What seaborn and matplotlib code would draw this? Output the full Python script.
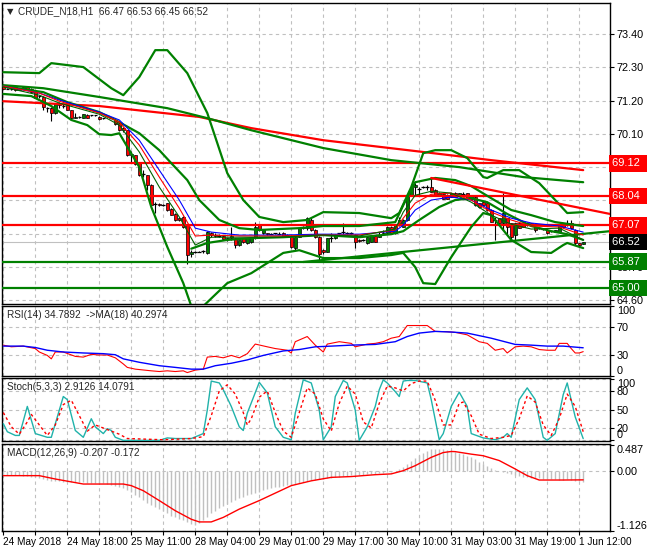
import numpy as np
import matplotlib
matplotlib.use("Agg")
import matplotlib.pyplot as plt
import seaborn as sns

## chart texts
title = "CRUDE_N18,H1  66.47 66.53 66.45 66.52"
rsi_title = "RSI(14) 34.7892  ->MA(18) 40.2974"
sto_title = "Stoch(5,3,3) 2.9126 14.0791"
macd_title = "MACD(12,26,9) -0.207 -0.172"
time_labels = ["24 May 2018", "24 May 18:00", "25 May 11:00", "28 May 04:00", "29 May 01:00",
               "29 May 17:00", "30 May 10:00", "31 May 03:00", "31 May 19:00", "1 Jun 12:00"]
label_bars = [0, 16, 32, 48, 64, 80, 96, 112, 128, 144]
price_ticks = [73.40, 72.30, 71.20, 70.10, 69.00, 67.90, 66.80, 65.70, 64.60]

## H1 candles
opens = [71.73, 71.60, 71.59, 71.65, 71.55, 71.58, 71.65, 71.60, 71.47, 71.32,
         71.33, 70.96, 70.97, 70.78, 71.08, 71.05, 71.07, 70.89, 70.64, 70.67,
         70.63, 70.74, 70.70, 70.70, 70.67, 70.61, 70.67, 70.63, 70.56, 70.45,
         70.28, 70.22, 69.40, 69.40, 69.15, 68.79, 68.74, 68.40, 67.79, 67.78,
         67.74, 67.80, 67.63, 67.45, 67.30, 67.36, 67.08, 66.12, 66.20, 66.20,
         66.21, 66.15, 66.81, 66.75, 66.73, 66.72, 66.61, 66.64, 66.64, 66.42,
         66.64, 66.48, 66.53, 66.64, 67.08, 66.81, 66.81, 66.79, 66.80, 66.81,
         66.81, 66.74, 66.72, 66.31, 66.70, 66.97, 66.97, 67.25, 66.92, 66.70,
         66.25, 66.20, 66.64, 66.64, 66.80, 66.84, 66.83, 66.81, 66.75, 66.59,
         66.58, 66.48, 66.53, 66.72, 66.70, 66.78, 66.81, 67.03, 66.81, 67.08,
         67.03, 67.25, 68.07, 68.35, 68.30, 68.33, 68.35, 68.35, 68.24, 68.07,
         68.10, 68.07, 68.02, 68.13, 68.07, 68.13, 68.13, 67.96, 68.02, 67.80,
         67.86, 67.80, 67.58, 67.25, 67.30, 67.14, 67.30, 67.14, 66.75, 67.14,
         67.08, 67.08, 67.14, 67.03, 66.97, 66.94, 66.92, 66.88, 66.86, 66.86,
         67.08, 67.08, 67.14, 66.92, 66.48, 66.47]
highs = [71.75, 71.63, 71.62, 71.67, 71.60, 71.67, 71.66, 71.62, 71.48, 71.37,
         71.35, 71.00, 70.99, 71.12, 71.16, 71.08, 71.08, 70.90, 70.78, 70.69,
         70.76, 70.76, 70.73, 70.72, 70.68, 70.64, 70.69, 70.66, 70.57, 70.46,
         70.34, 70.23, 69.53, 69.41, 69.16, 68.90, 68.75, 68.45, 67.85, 67.82,
         67.78, 67.82, 67.64, 67.47, 67.36, 67.38, 67.10, 66.25, 66.23, 66.22,
         66.25, 66.88, 66.86, 66.83, 66.77, 66.75, 66.66, 67.03, 66.66, 66.45,
         66.66, 66.66, 66.68, 67.19, 67.12, 66.93, 66.83, 66.82, 66.83, 66.85,
         66.86, 66.77, 66.75, 66.72, 67.00, 67.05, 67.36, 67.30, 66.95, 66.72,
         66.30, 66.66, 66.81, 66.78, 66.83, 67.14, 66.85, 66.85, 66.78, 66.61,
         66.62, 66.72, 66.74, 66.74, 66.86, 66.92, 67.05, 67.06, 67.10, 67.36,
         67.27, 68.10, 68.38, 68.46, 68.35, 68.37, 68.41, 68.63, 68.26, 68.16,
         68.12, 68.10, 68.15, 68.16, 68.15, 68.18, 68.15, 68.08, 68.04, 67.82,
         67.88, 67.82, 67.60, 67.36, 67.32, 68.13, 67.32, 67.16, 67.16, 67.16,
         67.10, 67.19, 67.16, 67.05, 67.00, 66.97, 66.94, 66.90, 66.93, 67.10,
         67.12, 67.25, 67.25, 66.94, 66.50, 66.53]
lows = [71.58, 71.57, 71.56, 71.52, 71.54, 71.57, 71.58, 71.45, 71.28, 71.30,
        70.89, 70.83, 70.52, 70.75, 70.95, 70.94, 70.88, 70.56, 70.62, 70.64,
        70.62, 70.63, 70.68, 70.69, 70.57, 70.60, 70.66, 70.61, 70.40, 70.21,
        70.17, 69.38, 69.18, 69.08, 68.72, 68.68, 68.24, 67.72, 67.47, 67.72,
        67.70, 67.56, 67.40, 67.23, 67.22, 67.00, 65.81, 66.03, 66.17, 66.18,
        66.17, 66.12, 66.70, 66.68, 66.70, 66.58, 66.57, 66.59, 66.31, 66.40,
        66.50, 66.45, 66.50, 66.62, 66.90, 66.79, 66.75, 66.77, 66.78, 66.78,
        66.71, 66.72, 66.31, 66.25, 66.68, 66.95, 66.92, 66.90, 66.64, 65.92,
        66.14, 66.18, 66.53, 66.62, 66.78, 66.80, 66.78, 66.79, 66.31, 66.52,
        66.56, 66.46, 66.51, 66.51, 66.68, 66.76, 66.79, 66.79, 66.79, 67.06,
        67.01, 67.22, 68.05, 68.07, 68.07, 68.30, 68.24, 68.17, 68.05, 68.05,
        67.94, 67.94, 68.00, 68.00, 68.05, 68.10, 67.94, 67.94, 67.72, 67.66,
        67.72, 67.56, 67.17, 66.59, 67.12, 66.92, 66.75, 66.59, 66.59, 66.97,
        67.02, 67.06, 67.07, 66.86, 66.95, 66.92, 66.80, 66.86, 66.84, 66.84,
        67.01, 67.06, 66.95, 66.42, 66.36, 66.45]
closes = [71.60, 71.59, 71.60, 71.54, 71.58, 71.65, 71.60, 71.47, 71.30, 71.34,
          71.00, 70.95, 70.78, 71.11, 71.05, 71.03, 70.89, 70.63, 70.67, 70.65,
          70.75, 70.64, 70.72, 70.71, 70.58, 70.62, 70.68, 70.64, 70.41, 70.22,
          70.22, 69.40, 69.45, 69.09, 68.74, 68.77, 68.40, 67.76, 67.78, 67.74,
          67.74, 67.58, 67.41, 67.25, 67.25, 67.03, 66.09, 66.20, 66.20, 66.20,
          66.22, 66.86, 66.75, 66.72, 66.72, 66.61, 66.64, 66.72, 66.42, 66.59,
          66.53, 66.64, 66.64, 67.03, 66.92, 66.92, 66.77, 66.80, 66.81, 66.80,
          66.72, 66.75, 66.37, 66.70, 66.97, 67.02, 67.30, 66.92, 66.70, 66.14,
          66.20, 66.64, 66.66, 66.75, 66.81, 66.86, 66.81, 66.81, 66.53, 66.55,
          66.59, 66.70, 66.72, 66.53, 66.75, 66.81, 67.03, 66.81, 67.08, 67.25,
          67.25, 68.07, 68.35, 68.40, 68.29, 68.35, 68.35, 68.18, 68.07, 68.13,
          67.96, 67.96, 68.13, 68.02, 68.13, 68.12, 67.96, 68.07, 67.75, 67.69,
          67.75, 67.58, 67.19, 67.25, 67.14, 67.47, 67.03, 66.70, 67.14, 66.97,
          67.03, 67.14, 67.08, 66.92, 66.97, 66.94, 66.81, 66.88, 66.92, 67.08,
          67.03, 67.14, 66.97, 66.48, 66.42, 66.52]

## overlays on the price window (bar index, price)
sma_red_x = [0, 24, 49, 62, 80, 105, 122, 145]
sma_red_y = [71.18, 71.02, 70.66, 70.29, 69.89, 69.50, 69.23, 68.90]
sma_green_x = [0, 10, 24, 41, 51, 62, 80, 97, 114, 130, 145]
sma_green_y = [71.71, 71.61, 71.32, 70.95, 70.62, 70.22, 69.63, 69.23, 69.00, 68.67, 68.50]
bbw_up_x = [0, 9, 12, 20, 27, 30, 34, 38, 41, 46, 51, 56, 60, 64, 70, 76, 80, 89, 97, 99,
            102, 105, 108, 112, 116, 120, 121, 125, 129, 134, 138, 141, 145]
bbw_up_y = [72.14, 72.11, 72.44, 72.31, 71.61, 71.38, 71.98, 72.87, 72.87, 72.11,
            70.79, 68.80, 67.91, 67.35, 67.18, 67.25, 67.51, 67.48, 67.31, 67.48,
            68.34, 69.46, 69.56, 69.56, 69.30, 68.67, 68.64, 68.90, 68.90, 68.47,
            67.91, 67.48, 67.51]
bbw_lo_x = [0, 7, 12, 17, 21, 24, 27, 29, 34, 37, 41, 45, 47, 50, 56, 62, 70, 74, 80, 89,
            97, 100, 103, 105, 108, 112, 117, 120, 122, 127, 132, 137, 140, 141, 145]
bbw_lo_y = [71.42, 71.35, 71.02, 70.56, 70.39, 70.09, 70.06, 70.12, 69.00, 67.68,
            66.36, 65.16, 64.40, 64.40, 65.16, 65.49, 66.16, 66.25, 65.99, 65.99,
            66.09, 66.16, 65.69, 65.16, 65.13, 66.02, 67.02, 67.48, 67.41, 66.59,
            66.19, 66.16, 66.42, 66.49, 66.32]
bb_up_x = [0, 10, 16, 24, 28, 34, 39, 42, 46, 49, 54, 59, 64, 74, 80, 89, 98, 100, 103, 108,
           113, 117, 122, 127, 132, 138, 145]
bb_up_y = [71.68, 71.48, 71.15, 70.82, 70.56, 70.12, 69.56, 69.13, 68.57, 67.91,
           67.25, 66.98, 66.92, 66.98, 67.05, 67.05, 67.18, 67.74, 68.50, 68.64,
           68.57, 68.37, 67.97, 67.58, 67.41, 67.18, 67.05]
bb_lo_x = [47, 51, 56, 62, 70, 80, 89, 97, 100, 104, 109, 113, 117, 121, 126, 132, 137, 141, 145]
bb_lo_y = [66.30, 66.49, 66.59, 66.65, 66.68, 66.75, 66.68, 66.78, 66.88, 67.25,
           67.68, 67.91, 67.97, 67.84, 67.45, 67.05, 66.88, 66.78, 66.59]
ma_x = [0, 9, 14, 24, 29, 34, 39, 44, 48, 52, 59, 69, 79, 89, 98, 100, 103, 107, 112, 117,
        122, 127, 132, 139, 145]
ma_blue_y = [71.68, 71.45, 71.22, 70.82, 70.56, 69.89, 68.90, 67.91, 66.98, 66.85,
             66.75, 66.75, 66.78, 66.78, 66.88, 67.08, 67.58, 67.91, 68.01, 67.91,
             67.58, 67.31, 67.15, 67.05, 66.85]
ma_red_y = [71.68, 71.45, 71.18, 70.79, 70.49, 69.73, 68.67, 67.64, 66.72, 66.75,
            66.72, 66.72, 66.75, 66.75, 66.92, 67.31, 67.81, 68.10, 68.14, 67.91,
            67.51, 67.25, 67.05, 67.02, 66.75]
ma_dgreen_y = [71.65, 71.38, 71.12, 70.75, 70.39, 69.50, 68.34, 67.35, 66.42, 66.68,
               66.68, 66.68, 66.75, 66.72, 66.95, 67.51, 68.07, 68.20, 68.14, 67.84,
               67.41, 67.11, 66.95, 66.98, 66.59]
trend_red_x = [107, 151.7]
trend_red_y = [68.64, 67.45]
trend_green_x = [75, 151.7]
trend_green_y = [65.86, 66.88]
red_levels = [69.12, 68.04, 67.07]
green_levels = [65.87, 65.00]
last_price = 66.52

## RSI(14) and its MA(18)
rsi_x = [0, 2, 5, 8, 9, 11, 12, 13, 15, 18, 20, 22, 24, 26, 28, 30, 31, 33, 37, 39,
         41, 43, 45, 46, 48, 50, 51, 53, 55, 57, 59, 61, 63, 66, 68, 71, 72, 73, 76, 78,
         80, 81, 84, 87, 88, 91, 93, 95, 97, 99, 101, 103, 106, 108, 111, 113, 116, 119, 121, 123,
         125, 126, 128, 130, 132, 134, 136, 138, 139, 141, 142, 143, 144, 145]
rsi_y = [44.1, 41.7, 42.7, 39.2, 34.3, 29.4, 24.5, 34.3, 34.3, 28.0, 27.0, 30.9, 30.0, 30.0,
         26.0, 17.2, 12.3, 9.8, 7.4, 6.4, 7.4, 6.4, 7.4, 4.9, 8.4, 9.8, 27.0, 28.0, 26.0, 29.4,
         26.0, 31.9, 45.6, 41.7, 39.2, 36.8, 32.9, 49.0, 56.4, 44.1, 34.3, 45.6, 49.0, 46.6,
         41.7, 45.6, 46.6, 49.0, 54.0, 56.4, 72.1, 72.1, 72.1, 63.7, 63.3, 62.3, 58.8, 49.0,
         46.6, 36.8, 39.2, 32.9, 41.7, 42.7, 41.7, 37.8, 36.8, 36.8, 46.6, 46.6, 39.2, 32.9,
         32.9, 34.8]
rsi_ma_x = [0, 5, 8, 11, 15, 20, 25, 28, 30, 34, 39, 43, 47, 50, 53, 57, 61, 65, 70, 74,
            78, 82, 87, 93, 98, 101, 104, 108, 112, 116, 122, 128, 132, 136, 140, 145]
rsi_ma_y = [42.7, 42.7, 40.7, 36.8, 34.3, 32.9, 31.9, 30.4, 24.5, 19.6, 14.7, 12.3, 9.8, 9.8,
            14.7, 18.2, 23.0, 29.4, 35.8, 37.8, 41.7, 42.7, 44.1, 45.1, 49.0, 56.4, 61.3, 63.7,
            62.8, 61.3, 54.0, 45.1, 44.1, 42.7, 42.7, 40.3]

## Stochastic(5,3,3)
sto_x = [0, 1, 3, 4, 6, 7, 8, 11, 12, 14, 15, 16, 18, 20, 22, 23, 25, 26, 27, 28,
         30, 39, 41, 43, 47, 50, 51, 52, 54, 55, 57, 59, 60, 61, 64, 66, 68, 70, 72, 73,
         75, 77, 79, 80, 82, 83, 85, 86, 88, 89, 91, 93, 94, 95, 96, 98, 99, 100, 101, 103,
         106, 107, 109, 110, 112, 114, 116, 117, 120, 123, 125, 126, 127, 129, 131, 133, 135, 136, 138, 140,
         141, 143, 145]
sto_main = [27, 14, 8, 8, 55, 33, 11, 5, 5, 49, 71, 66, 16, 5, 35, 22, 11, 19, 16, 5,
            0, 0, 4, 3, 3, 11, 49, 96, 93, 82, 55, 22, 16, 44, 94, 77, 22, 5, 1, 44,
            98, 93, 49, 1, 22, 71, 97, 93, 49, 0, 22, 55, 82, 98, 93, 79, 71, 96, 97, 97,
            93, 66, 1, 11, 55, 78, 55, 11, 4, 1, 5, 11, 5, 66, 85, 66, 5, 0, 11, 74,
            93, 38, 2.9]
sig_x = [0, 2, 4, 6, 7, 9, 11, 13, 15, 17, 19, 21, 23, 25, 27, 29, 31, 40, 47, 50,
         52, 54, 56, 58, 60, 61, 62, 64, 66, 68, 70, 72, 74, 76, 78, 80, 82, 84, 86, 88,
         90, 92, 94, 96, 98, 100, 102, 104, 106, 108, 110, 112, 114, 115, 117, 119, 122, 125, 127, 129,
         131, 133, 135, 137, 139, 141, 143, 145]
sig_y = [45, 22, 10, 30, 42, 25, 8, 25, 58, 65, 40, 15, 25, 20, 15, 10, 3, 1, 3, 6,
         40, 80, 90, 75, 45, 25, 35, 70, 80, 45, 15, 5, 45, 85, 75, 35, 15, 60, 88, 75,
         30, 20, 60, 88, 85, 80, 92, 96, 96, 65, 25, 25, 60, 62, 40, 10, 3, 5, 8, 35,
         72, 62, 25, 8, 35, 75, 55, 14.1]

## MACD(12,26,9): histogram per bar + signal
macd_hist = [-0.09, -0.09, -0.09, -0.09, -0.09, -0.10, -0.10, -0.11, -0.12, -0.13,
             -0.15, -0.17, -0.19, -0.20, -0.20, -0.21, -0.21, -0.22, -0.22, -0.22,
             -0.22, -0.23, -0.23, -0.23, -0.24, -0.24, -0.25, -0.26, -0.28, -0.30,
             -0.32, -0.36, -0.40, -0.45, -0.50, -0.55, -0.60, -0.64, -0.68, -0.72,
             -0.76, -0.80, -0.84, -0.87, -0.90, -0.93, -0.97, -1.00, -1.01, -0.98,
             -0.92, -0.86, -0.80, -0.75, -0.70, -0.66, -0.62, -0.58, -0.55, -0.52,
             -0.49, -0.46, -0.44, -0.41, -0.39, -0.37, -0.35, -0.33, -0.31, -0.30,
             -0.28, -0.27, -0.26, -0.25, -0.23, -0.21, -0.19, -0.18, -0.17, -0.16,
             -0.15, -0.14, -0.13, -0.12, -0.11, -0.10, -0.10, -0.09, -0.09, -0.08,
             -0.08, -0.07, -0.07, -0.06, -0.05, -0.04, -0.03, -0.02, 0.00, 0.03,
             0.06, 0.12, 0.18, 0.24, 0.29, 0.33, 0.37, 0.40, 0.41, 0.41,
             0.40, 0.39, 0.37, 0.35, 0.33, 0.31, 0.28, 0.25, 0.21, 0.17,
             0.13, 0.09, 0.05, 0.02, -0.01, -0.03, -0.05, -0.07, -0.09, -0.10,
             -0.11, -0.12, -0.13, -0.14, -0.14, -0.15, -0.16, -0.16, -0.16, -0.17,
             -0.17, -0.16, -0.17, -0.19, -0.20, -0.21]
macd_sig_x = [0, 9, 13, 20, 30, 32, 35, 39, 43, 47, 49, 52, 55, 59, 64, 68, 72, 77, 82, 87,
              93, 97, 100, 103, 107, 110, 112, 113, 117, 120, 124, 128, 131, 134, 140, 145]
macd_sig_y = [-0.093, -0.093, -0.156, -0.25, -0.25, -0.28, -0.375, -0.56, -0.75, -0.91,
              -0.96, -0.96, -0.875, -0.72, -0.56, -0.42, -0.28, -0.19, -0.125, -0.11,
              -0.075, -0.06, 0.0, 0.094, 0.25, 0.34, 0.36, 0.357, 0.31, 0.28,
              0.19, 0.032, -0.093, -0.175, -0.175, -0.172]

# style
sns.set_theme(style="white")
plt.rcParams['font.family'] = ['Liberation Sans', 'DejaVu Sans']
grid_kw = dict(color='#c0c0c0', linestyle=(0, (3, 3)), linewidth=0.8)
small = 7.2

W, H = 650, 550
fig = plt.figure(figsize=(6.5, 5.5), dpi=100)
fig.patch.set_facecolor('white')


def panel(top, bottom):
    return fig.add_axes([2 / W, 1 - bottom / H, 608 / W, (bottom - top) / H])


ax = panel(3, 304)
ax_rsi = panel(306, 376)
ax_sto = panel(378, 441)
ax_macd = panel(444, 531)
grid_bars = np.arange(0, 150, 8)

for a in [ax, ax_rsi, ax_sto, ax_macd]:
    a.set_facecolor('white')
    a.set_xlim(-0.33, 151.7)
    for s in a.spines.values():
        s.set_color('black')
        s.set_linewidth(1.0)
    a.set_xticks(grid_bars)
    a.grid(axis='x', **grid_kw)
    a.yaxis.tick_right()
    a.tick_params(axis='y', right=True, left=False, labelright=True, labelleft=False,
                  length=3, width=0.8, pad=2, labelsize=7.8, colors='black', direction='out')
    a.tick_params(axis='x', bottom=False, labelbottom=False)


def line(a, xs, ys, color, lw, ls='-', z=4):
    sns.lineplot(x=xs, y=ys, ax=a, color=color, linewidth=lw, linestyle=ls,
                 estimator=None, sort=False, legend=False, zorder=z)


# 1. price window
bars = np.arange(len(closes))
o = np.array(opens); c = np.array(closes); h = np.array(highs); l = np.array(lows)
ax.vlines(bars, l, h, color='black', linewidth=0.8, zorder=3)
body_lo = np.minimum(o, c)
body_h = np.abs(c - o)
flat = body_h < 0.025
up = (c > o) & ~flat
dn = (c <= o) & ~flat
ax.bar(bars[up], body_h[up], bottom=body_lo[up], width=0.75, color='#008000',
       edgecolor='black', linewidth=0.5, zorder=3)
ax.bar(bars[dn], body_h[dn], bottom=body_lo[dn], width=0.75, color='#ff0000',
       edgecolor='black', linewidth=0.5, zorder=3)
ax.hlines(c[flat], bars[flat] - 0.45, bars[flat] + 0.45, color='black', linewidth=0.9, zorder=3)

ax.axhline(last_price, color='#c0c0c0', linewidth=0.8, zorder=2)
for lv in red_levels:
    ax.axhline(lv, color='#ff0000', linewidth=1.6, zorder=4)
for lv in green_levels:
    ax.axhline(lv, color='#008000', linewidth=1.6, zorder=4)

line(ax, sma_red_x, sma_red_y, '#ff0000', 1.6)
line(ax, sma_green_x, sma_green_y, '#008000', 1.6)
line(ax, bbw_up_x, bbw_up_y, '#008000', 1.6)
line(ax, bbw_lo_x, bbw_lo_y, '#008000', 1.6)
line(ax, bb_up_x, bb_up_y, '#008000', 1.6)
line(ax, bb_lo_x, bb_lo_y, '#008000', 1.6)
line(ax, trend_red_x, trend_red_y, '#ff0000', 1.6)
line(ax, trend_green_x, trend_green_y, '#008000', 1.6)
line(ax, ma_x, ma_blue_y, '#0000ff', 0.8, z=5)
line(ax, ma_x, ma_red_y, '#ff0000', 0.8, z=5)
line(ax, ma_x, ma_dgreen_y, '#006400', 0.8, z=5)

ax.set_ylim(64.47, 74.43)
ax.set_yticks(price_ticks)
ax.set_yticklabels([f"{p:.2f}" for p in price_ticks])
ax.grid(axis='y', **grid_kw)
ax.set_xlabel(''); ax.set_ylabel('')

tr = ax.get_yaxis_transform()
box_rows = [(v, '#ff0000') for v in red_levels] + [(last_price, 'black')] + \
           [(v, '#008000') for v in green_levels]
for v, col in box_rows:
    ax.text(1.004, v, f"{v:.2f} ", transform=tr, ha='left', va='center', color='white',
            fontsize=8, zorder=10, clip_on=False,
            bbox=dict(boxstyle='square,pad=0.3', facecolor=col, edgecolor='none'))

ax.text(0.008, 0.985, "\u25bc", transform=ax.transAxes, ha='left', va='top', fontsize=6,
        family=['DejaVu Sans'])
ax.text(0.027, 0.99, title, transform=ax.transAxes, ha='left', va='top', fontsize=small)

# 2. RSI window
line(ax_rsi, rsi_x, rsi_y, '#ff0000', 0.8)
line(ax_rsi, rsi_ma_x, rsi_ma_y, '#0000ff', 1.0)
ax_rsi.set_ylim(0, 100)
ax_rsi.set_yticks([0, 30, 70, 100])
ax_rsi.set_yticklabels(['0', '30', '70', '100'])
ax_rsi.grid(axis='y', **grid_kw)
labs = ax_rsi.get_yticklabels()
labs[0].set_va('bottom'); labs[-1].set_va('top')
ax_rsi.text(0.008, 0.95, rsi_title, transform=ax_rsi.transAxes, ha='left', va='top', fontsize=small)
ax_rsi.set_xlabel(''); ax_rsi.set_ylabel('')

# 3. Stochastic window
line(ax_sto, sto_x, sto_main, '#20b2aa', 1.0)
line(ax_sto, sig_x, sig_y, '#ff0000', 1.0, ls=(0, (2, 2)))
ax_sto.set_ylim(-1, 101)
ax_sto.set_yticks([0, 20, 50, 80, 100])
ax_sto.set_yticklabels(['0', '20', '50', '80', '100'])
ax_sto.grid(axis='y', **grid_kw)
labs = ax_sto.get_yticklabels()
labs[0].set_va('bottom'); labs[-1].set_va('top')
ax_sto.text(0.008, 0.93, sto_title, transform=ax_sto.transAxes, ha='left', va='top', fontsize=small)
ax_sto.set_xlabel(''); ax_sto.set_ylabel('')

# 4. MACD window
ax_macd.vlines(bars, 0, macd_hist, color='#c0c0c0', linewidth=1.0, zorder=3)
line(ax_macd, macd_sig_x, macd_sig_y, '#ff0000', 1.0)
ax_macd.set_ylim(-1.13, 0.50)
ax_macd.set_yticks([-1.126, 0.0, 0.487])
ax_macd.set_yticklabels(['-1.126', '0.00', '0.487'])
ax_macd.grid(axis='y', **grid_kw)
labs = ax_macd.get_yticklabels()
labs[0].set_va('bottom'); labs[-1].set_va('top')
ax_macd.text(0.008, 0.95, macd_title, transform=ax_macd.transAxes, ha='left', va='top', fontsize=small)
ax_macd.set_xlabel(''); ax_macd.set_ylabel('')

ax_macd.set_xticks(grid_bars)
ax_macd.set_xticklabels([time_labels[label_bars.index(b)] if b in label_bars else '' for b in grid_bars])
ax_macd.tick_params(axis='x', bottom=True, labelbottom=True, length=3, width=0.8, pad=1,
                    labelsize=small, colors='black', direction='out')
for lab in ax_macd.get_xticklabels():
    lab.set_ha('left')

fig.savefig('out.png', dpi=100, facecolor='white')
